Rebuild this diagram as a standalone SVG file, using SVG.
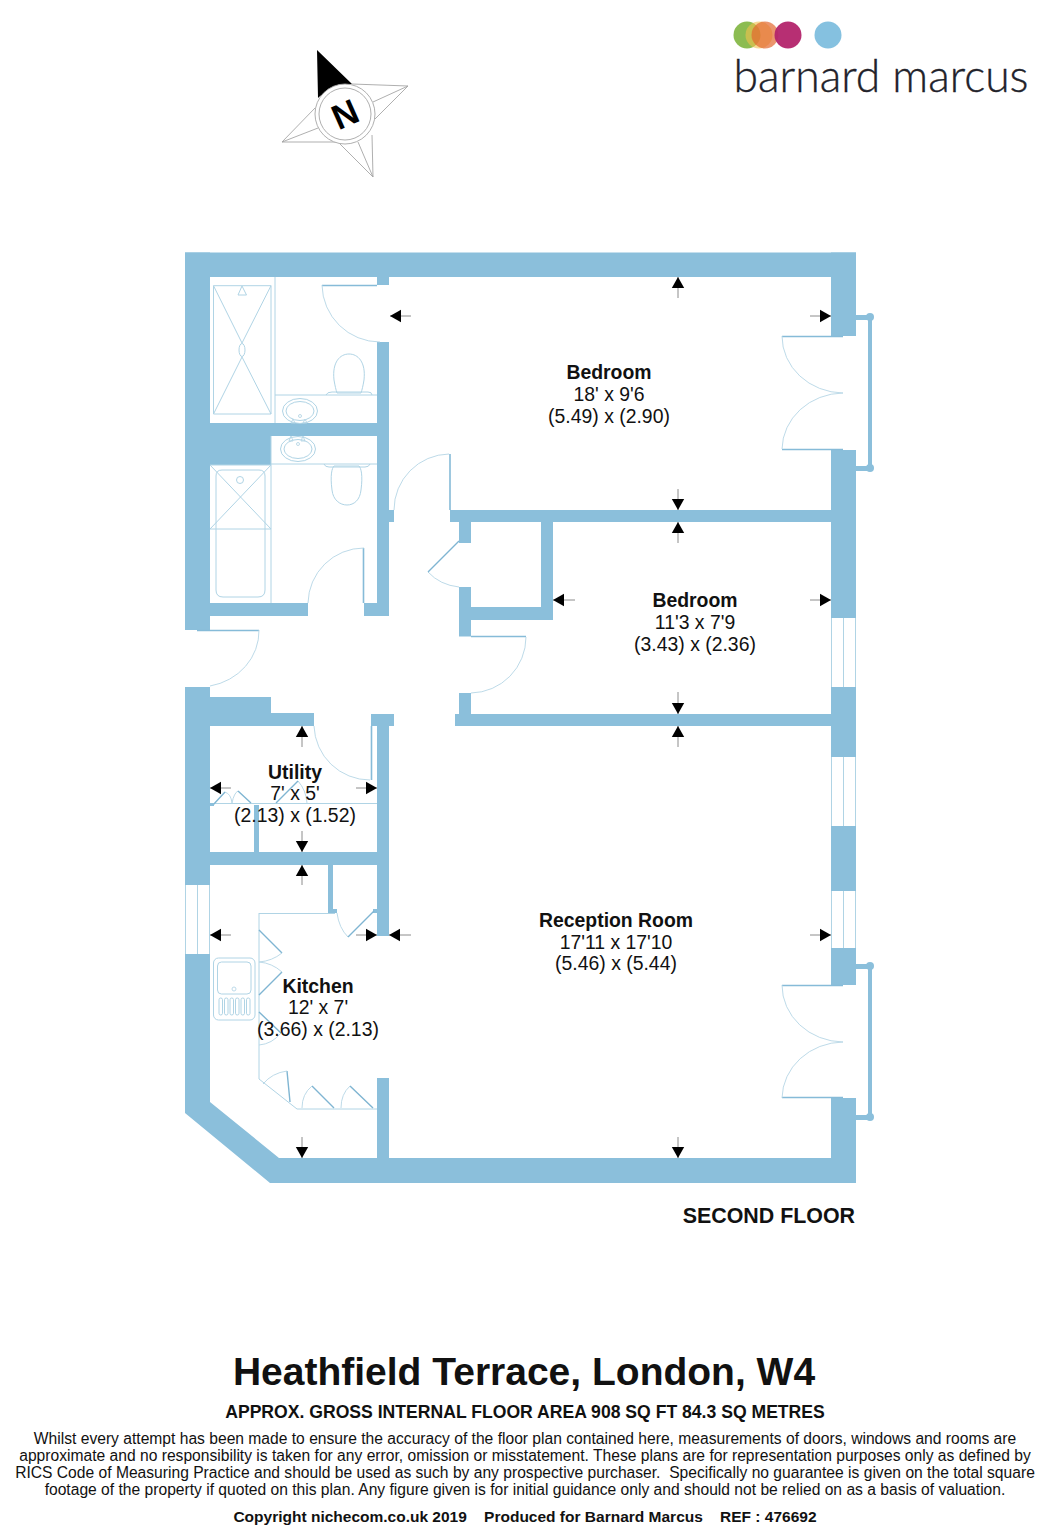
<svg xmlns="http://www.w3.org/2000/svg" width="1053" height="1536" viewBox="0 0 1053 1536">
<style>
.w{fill:#8bbfdb;stroke:none}
.t{fill:none;stroke:#b0d4e5;stroke-width:1}
.a{fill:none;stroke:#b5d6e5;stroke-width:.9}
.l{fill:none;stroke:#86bbd8;stroke-width:1.6}
.k{fill:none;stroke:#7fb5d2;stroke-width:1.400}
.d{stroke:#808080;stroke-width:.9;marker-end:url(#ah)}
.c{fill:none;stroke:#a6a6a6;stroke-width:.9}
text{font-family:"Liberation Sans",Arial,sans-serif;fill:#111;text-anchor:middle}
.r{font-size:19.4px}
.b{font-weight:bold}
.s{font-size:15.63px}
</style>
<defs>
<marker id="ah" markerUnits="userSpaceOnUse" markerWidth="13" markerHeight="14" refX="11" refY="7" orient="auto"><path d="M0 .8L11 7L0 13.200Z" fill="#000"/></marker>
</defs>
<rect width="1053" height="1536" fill="#fff"/>

<g id="logo">
<circle cx="747" cy="35" r="13.500" fill="#8cbc52"/>
<circle cx="759" cy="35" r="13.500" fill="#f2c14e" fill-opacity=".6"/>
<circle cx="765" cy="35" r="13.500" fill="#e2682f" fill-opacity=".7"/>
<circle cx="788" cy="35" r="13.500" fill="#b3246b" fill-opacity=".95"/>
<circle cx="828" cy="35" r="13.500" fill="#85c1e0"/>
<text x="881" y="91.500" font-size="45" textLength="295" lengthAdjust="spacingAndGlyphs" stroke="#22222a" stroke-width=".35" style="font-family:Lato,'Liberation Sans',sans-serif;font-weight:300;fill:#22222a">barnard marcus</text>
</g>

<g id="compass">
<path class="c" d="M352 84L408 86L375 119M408 86L373 102M372 135L373 177L338 142M373 177L358 142M315 108L282 142L338 142M282 142L318 128"/>
<path d="M317 50L352 84Q328 88 318 98Z" fill="#000"/>
<circle cx="345" cy="114" r="30" fill="#fff" stroke="#a6a6a6" stroke-width=".9"/>
<circle cx="345" cy="114" r="26" fill="none" stroke="#a6a6a6" stroke-width=".9"/>
<text x="345" y="126.500" font-size="35" class="b" transform="rotate(-24 345 114)" style="fill:#000">N</text>
</g>

<g id="walls">
<rect class="w" x="185" y="252.500" width="671" height="24.500"/>
<rect class="w" x="185" y="252.500" width="25" height="377.500"/>
<rect class="w" x="197" y="625" width="13" height="6"/>
<polygon class="w" points="185,954 210,954 210,1102 279,1158 856,1158 856,1183 270,1183 185,1113"/>
<rect class="w" x="185" y="687" width="25" height="198"/>
<rect class="w" x="831" y="252.500" width="25" height="83.500"/>
<rect class="w" x="831" y="450" width="25" height="168"/>
<rect class="w" x="831" y="687" width="25" height="70"/>
<rect class="w" x="831" y="826" width="25" height="65"/>
<rect class="w" x="831" y="948" width="25" height="37"/>
<rect class="w" x="831" y="1098" width="25" height="85"/>
<rect class="w" x="377" y="277" width="12" height="8"/>
<rect class="w" x="377" y="342" width="12" height="274"/>
<rect class="w" x="389" y="510" width="5" height="12"/>
<rect class="w" x="210" y="423" width="167" height="13"/>
<rect class="w" x="210" y="436" width="61" height="29"/>
<rect class="w" x="210" y="603" width="98" height="13"/>
<rect class="w" x="364" y="603" width="13" height="13"/>
<rect class="w" x="210" y="697" width="61" height="29"/>
<rect class="w" x="271" y="713" width="43" height="13"/>
<rect class="w" x="371" y="714" width="23" height="12"/>
<rect class="w" x="377" y="726" width="12" height="210"/>
<rect class="w" x="210" y="852" width="167" height="13"/>
<rect class="w" x="254" y="805" width="5" height="47"/>
<rect class="w" x="328" y="865" width="5" height="46"/>
<rect class="w" x="328" y="909" width="9" height="4"/>
<rect class="w" x="373" y="909" width="4" height="4"/>
<rect class="w" x="377" y="1078" width="12" height="80"/>
<rect class="w" x="450" y="510" width="381" height="12"/>
<rect class="w" x="459" y="522" width="12" height="21"/>
<rect class="w" x="459" y="587" width="12" height="49.500"/>
<rect class="w" x="471" y="607" width="82" height="13"/>
<rect class="w" x="541" y="522" width="12" height="85"/>
<rect class="w" x="459" y="693" width="12" height="21"/>
<rect class="w" x="455" y="714" width="376" height="12"/>
<rect class="w" x="856" y="315" width="12" height="5"/>
<rect class="w" x="856" y="466" width="12" height="5"/>
<rect class="w" x="868" y="317" width="4" height="151"/>
<circle class="w" cx="870" cy="317" r="4"/>
<circle class="w" cx="870" cy="468" r="4"/>
<rect class="w" x="856" y="964" width="12" height="5"/>
<rect class="w" x="856" y="1115" width="12" height="5"/>
<rect class="w" x="868" y="966" width="4" height="151"/>
<circle class="w" cx="870" cy="966" r="4"/>
<circle class="w" cx="870" cy="1117" r="4"/>
</g>

<g id="windows">
<path class="t" d="M831.500 618V687M843.500 618V687M855.500 618V687M831.500 757V826M843.500 757V826M855.500 757V826M831.500 891V948M843.500 891V948M855.500 891V948M185.500 885V954M197.500 885V954M209.500 885V954"/>
</g>

<g id="doors">
<path class="l" d="M322 285.500H377M450 454V510M363.500 548V603M197 630.500H259M371.500 726V780M782 336.500H843M782 449.500H843M782 985.500H843M782 1097.500H843M471 636.500H526"/>
<path class="a" d="M322 285A58 58 0 0 0 380 342M449 454A56 56 0 0 0 394 510M364 548A56 56 0 0 0 308 603M259 630A60 56 0 0 1 210 686M314 726A56 56 0 0 0 370 780M526 637A56 56 0 0 1 471 693M428 572Q440 585 459 587M782 336A62 57 0 0 0 843 393M782 449A62 57 0 0 1 843 393M782 985A62 57 0 0 0 843 1042M782 1098A62 57 0 0 1 843 1042M337 913Q339 928 348 937"/>
<path class="k" d="M428 572L459 541M348 937L374 911"/>
</g>

<g id="fixtures">
<path class="t" d="M275 277V423M275 395H377M213.500 285.700H271V414H213.500ZM213.500 285.700L242 343M271 285.700L242 343M213.500 414L242 357M271 414L242 357M242 286L238 295H246.500Z"/>
<ellipse class="t" cx="242" cy="350" rx="3" ry="6.500"/>
<ellipse class="t" cx="300" cy="411" rx="17.500" ry="12.500"/>
<ellipse class="t" cx="300" cy="411" rx="14" ry="9.500"/>
<circle class="a" cx="300" cy="416" r="1.500"/>
<path class="t" d="M334 380C332 362 340 354 349 354C358 354 366 362 364 380C363 386 362 390 361 393H337C336 390 335 386 334 380ZM326 395Q327 392 332 392H368Q372 392 372 395"/>
<path class="a" d="M293 419L291 423H295ZM305 419L303 423H307Z"/>
<path class="t" d="M271 436V603M271 464H377M210 465H271M210 465L271 529M271 465L210 529M210 529H271M216 476V590Q216 597 223 597H258Q265 597 265 590V476Q265 470 259 470H222Q216 470 216 476"/>
<circle class="t" cx="240" cy="480" r="3.500"/>
<ellipse class="t" cx="298" cy="449" rx="17.500" ry="12.500"/>
<ellipse class="t" cx="298" cy="449" rx="14" ry="9.500"/>
<circle class="a" cx="298" cy="444" r="1.500"/>
<path class="a" d="M291 436L289 441H293ZM303 436L301 441H305Z"/>
<path class="t" d="M332 490C330 475 332 468 334 466H359C361 468 363 475 361 490C360 500 354 505 347 505C340 505 333 500 332 490ZM324 464Q325 467 329 467H365Q369 467 370 464"/>

<path class="t" d="M210 803.500H377M259 913.500H335M259 913V1079L297 1109H377"/>
<path class="a" d="M225 792Q231 794 232 803M238 791Q234 793 232 803M298 781Q306 790 307 803"/>
<path class="k" d="M213 805L225 792M238 791L251 803M276 803L298 781"/>
<rect x="210" y="803" width="4" height="3" class="w"/>

<path class="k" d="M259 930L282 953M282 972L259 995M259 1012L281 1033M287 1071L290 1102M312 1086L334 1108M350 1086L373 1108"/>
<path class="a" d="M282 953Q272 961 259 962M259 962Q272 963 282 972M281 1033Q272 1044 259 1045M287 1071Q272 1073 263 1084M312 1086Q302 1094 302 1108M350 1086Q341 1094 341 1108"/>
<rect class="t" x="213.500" y="958" width="41.500" height="62" rx="5"/>
<rect class="t" x="217.500" y="962" width="33.500" height="32" rx="4"/>
<circle class="a" cx="234" cy="989" r="2"/>
<g class="t"><rect x="219" y="998" width="3.500" height="17" rx="1.700"/><rect x="224.500" y="998" width="3.500" height="17" rx="1.700"/><rect x="230" y="998" width="3.500" height="17" rx="1.700"/><rect x="235.500" y="998" width="3.500" height="17" rx="1.700"/><rect x="241" y="998" width="3.500" height="17" rx="1.700"/><rect x="246.500" y="998" width="3.500" height="17" rx="1.700"/></g>
</g>

<g id="dimensions">
<line class="d" x1="678" y1="298" x2="678" y2="277"/>
<line class="d" x1="411" y1="316" x2="390" y2="316"/>
<line class="d" x1="810" y1="316" x2="831" y2="316"/>
<line class="d" x1="678" y1="489" x2="678" y2="510"/>
<line class="d" x1="678" y1="543" x2="678" y2="522"/>
<line class="d" x1="575" y1="600" x2="553" y2="600"/>
<line class="d" x1="810" y1="600" x2="831" y2="600"/>
<line class="d" x1="678" y1="692" x2="678" y2="714"/>
<line class="d" x1="678" y1="747" x2="678" y2="726"/>
<line class="d" x1="302" y1="747" x2="302" y2="726"/>
<line class="d" x1="231" y1="788" x2="210" y2="788"/>
<line class="d" x1="356" y1="788" x2="377" y2="788"/>
<line class="d" x1="302" y1="831" x2="302" y2="852"/>
<line class="d" x1="302" y1="885" x2="302" y2="865"/>
<line class="d" x1="231" y1="935" x2="210" y2="935"/>
<line class="d" x1="356" y1="935" x2="377" y2="935"/>
<line class="d" x1="411" y1="935" x2="389" y2="935"/>
<line class="d" x1="810" y1="935" x2="831" y2="935"/>
<line class="d" x1="302" y1="1137" x2="302" y2="1158"/>
<line class="d" x1="678" y1="1137" x2="678" y2="1158"/>
</g>

<g id="labels">
<g id="room-bedroom-1" class="r"><text x="609" y="379" class="b">Bedroom</text><text x="609" y="401">18' x 9'6</text><text x="609" y="423">(5.49) x (2.90)</text></g>
<g id="room-bedroom-2" class="r"><text x="695" y="607" class="b">Bedroom</text><text x="695" y="629">11'3 x 7'9</text><text x="695" y="651">(3.43) x (2.36)</text></g>
<g id="room-utility" class="r"><text x="295" y="779" class="b">Utility</text><text x="295" y="800">7' x 5'</text><text x="295" y="822">(2.13) x (1.52)</text></g>
<g id="room-reception" class="r"><text x="616" y="927" class="b">Reception Room</text><text x="616" y="949">17'11 x 17'10</text><text x="616" y="970">(5.46) x (5.44)</text></g>
<g id="room-kitchen" class="r"><text x="318" y="993" class="b">Kitchen</text><text x="318" y="1014">12' x 7'</text><text x="318" y="1036">(3.66) x (2.13)</text></g>
<text x="855" y="1223" font-size="21.400" class="b" style="text-anchor:end">SECOND FLOOR</text>
</g>

<g id="footer">
<text x="524" y="1385" font-size="39" class="b">Heathfield Terrace, London, W4</text>
<text x="525" y="1418" font-size="17.600" class="b">APPROX. GROSS INTERNAL FLOOR AREA 908 SQ FT 84.3 SQ METRES</text>
<text x="525" y="1444" class="s">Whilst every attempt has been made to ensure the accuracy of the floor plan contained here, measurements of doors, windows and rooms are</text>
<text x="525" y="1461" class="s">approximate and no responsibility is taken for any error, omission or misstatement. These plans are for representation purposes only as defined by</text>
<text x="525" y="1478" class="s" xml:space="preserve">RICS Code of Measuring Practice and should be used as such by any prospective purchaser.  Specifically no guarantee is given on the total square</text>
<text x="525" y="1495" class="s">footage of the property if quoted on this plan. Any figure given is for initial guidance only and should not be relied on as a basis of valuation.</text>
<text x="525" y="1522" font-size="15.500" class="b" xml:space="preserve">Copyright nichecom.co.uk 2019    Produced for Barnard Marcus    REF : 476692</text>
</g>
</svg>
